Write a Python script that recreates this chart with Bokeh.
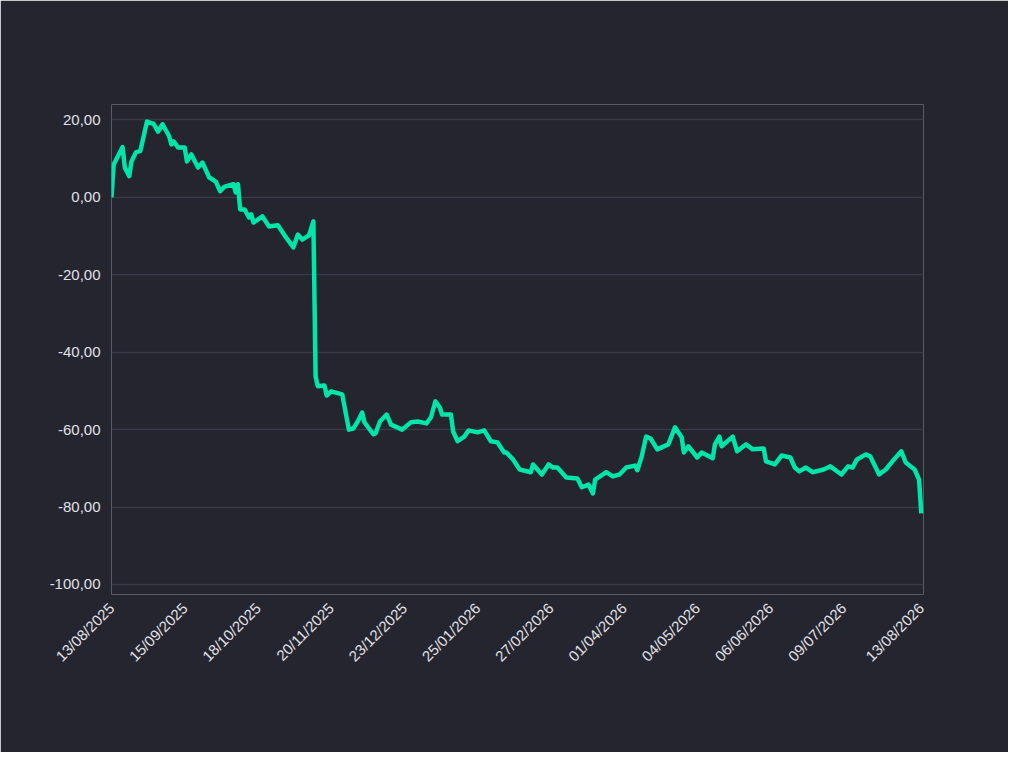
import pandas as pd
from bokeh.plotting import figure
from bokeh.models import FixedTicker, Label
from bokeh.embed import file_html
from bokeh.resources import INLINE

start = "2025-08-13"
day_offsets = [0,1,5,6,8,9,11,13,16,19,21,23,26,27,28,30,33,34,36,39,41,44,47,49,51,55,56,57,58,60,62,63,64,68,71,75,78,82,84,86,89,91,92,93,96,97,99,104,107,109,111,113,114,118,119,121,124,126,131,135,138,142,144,146,148,149,153,154,156,159,161,165,168,171,174,177,178,181,184,189,190,194,197,199,201,205,210,212,215,217,218,223,226,229,232,236,237,239,241,243,246,251,254,257,258,260,264,266,271,272,274,275,280,282,286,289,294,295,299,302,306,308,310,313,316,321,324,329,332,334,336,340,342,346,349,352,356,358,362,364,365]
values = [0,8.5,13,7.7,5.5,9.3,11.6,12,19.6,19,17,18.9,15.8,13.7,14.5,12.9,12.9,9.3,11.1,7.7,9,5.2,4.1,1.6,2.8,3.4,1.3,3.4,-3.1,-3.1,-5.2,-4.4,-6.5,-4.9,-7.5,-7.2,-9.8,-12.9,-9.6,-10.9,-9.8,-6.2,-46.3,-48.8,-48.6,-51.2,-50.1,-50.9,-60,-59.7,-57.9,-55.6,-58.1,-61.2,-61,-57.9,-56.1,-58.7,-60,-58.1,-57.9,-58.4,-56.8,-52.7,-54.3,-56.1,-56.1,-60.5,-63,-61.8,-60.2,-60.7,-60.2,-63,-63.3,-65.9,-65.9,-67.7,-70.3,-71,-69,-71.6,-69,-69.8,-69.8,-72.4,-72.6,-74.9,-74.2,-76.5,-72.9,-71,-72.1,-71.6,-69.8,-69.3,-70.5,-66.9,-61.8,-62.3,-65.1,-63.8,-59.4,-62,-65.9,-64.3,-67.2,-65.9,-67.4,-63.8,-61.8,-64.3,-61.8,-65.6,-63.8,-65.1,-64.9,-68.2,-69,-66.7,-67.2,-69.8,-70.8,-69.8,-71,-70.3,-69.5,-71.6,-69.5,-69.8,-67.7,-66.4,-66.9,-71.6,-70.3,-68.2,-65.6,-68.5,-70.3,-72.9,-81.62]
tick_labels = ["13/08/2025","15/09/2025","18/10/2025","20/11/2025","23/12/2025","25/01/2026","27/02/2026","01/04/2026","04/05/2026","06/06/2026","09/07/2026","13/08/2026"]
y_ticks = [20, 0, -20, -40, -60, -80, -100]

t0 = pd.Timestamp(start)
dates = [t0 + pd.Timedelta(days=d) for d in day_offsets]
tick_dates = [pd.Timestamp(pd.to_datetime(s, format="%d/%m/%Y")) for s in tick_labels]
tick_ms = [d.value / 1e6 for d in tick_dates]

BG = "#252530"
GREEN = "#00e5a8"
p = figure(width=1008, height=752, x_axis_type="datetime", output_backend="svg",
           toolbar_location=None,
           x_range=(t0, t0 + pd.Timedelta(days=366)), y_range=(-102.6, 24),
           min_border_left=111, min_border_right=85, min_border_top=104, min_border_bottom=158)
p.background_fill_color = BG
p.border_fill_color = BG
p.outline_line_color = None
p.outline_line_alpha = 0
p.xgrid.grid_line_color = None
p.ygrid.grid_line_color = "#3a3a46"
p.ygrid.grid_line_width = 1.5

p.line(dates, values, line_color=GREEN, line_width=4.5, line_join="round")

p.xaxis.ticker = FixedTicker(ticks=tick_ms)
p.xaxis.major_label_overrides = {t: l for t, l in zip(tick_ms, tick_labels)}
p.xaxis.major_label_orientation = 0.785
p.yaxis.ticker = FixedTicker(ticks=y_ticks)
p.yaxis.major_label_overrides = {v: f"{v},00" for v in y_ticks}
for ax in (p.xaxis, p.yaxis):
    ax.axis_line_color = None
    ax.major_tick_line_color = None
    ax.minor_tick_line_color = None
    ax.major_label_text_color = "#e0e0e6"
    ax.major_label_text_font = "Liberation Sans"
    ax.major_label_text_font_size = "15px"

p.add_layout(Label(x=-74, y=561, x_units="screen", y_units="screen", text="Hapvida (HAPV3)",
                   text_color="white", text_font="Open Sans", text_font_style="bold",
                   text_font_size="25px", text_baseline="top"))
p.add_layout(Label(x=-74, y=528, x_units="screen", y_units="screen", text="Variação acumulada em 12 meses - em %",
                   text_color="white", text_font="Open Sans",
                   text_font_size="25px", text_baseline="top"))
p.add_layout(Label(x=-84, y=-114, x_units="screen", y_units="screen", text="Fontes: RocketTrader e B3.",
                   text_color="white", text_font="Open Sans", text_font_style="bold",
                   text_font_size="17px", text_baseline="top"))
p.add_layout(Label(x=dates[-1], y=values[-1], x_offset=10, text="-81,62", text_color="white",
                   text_font="Liberation Sans", text_font_style="bold", text_font_size="23px",
                   text_baseline="middle", background_fill_color=GREEN,
                   padding=5))

open("out.html", "w").write(file_html(p, INLINE))
